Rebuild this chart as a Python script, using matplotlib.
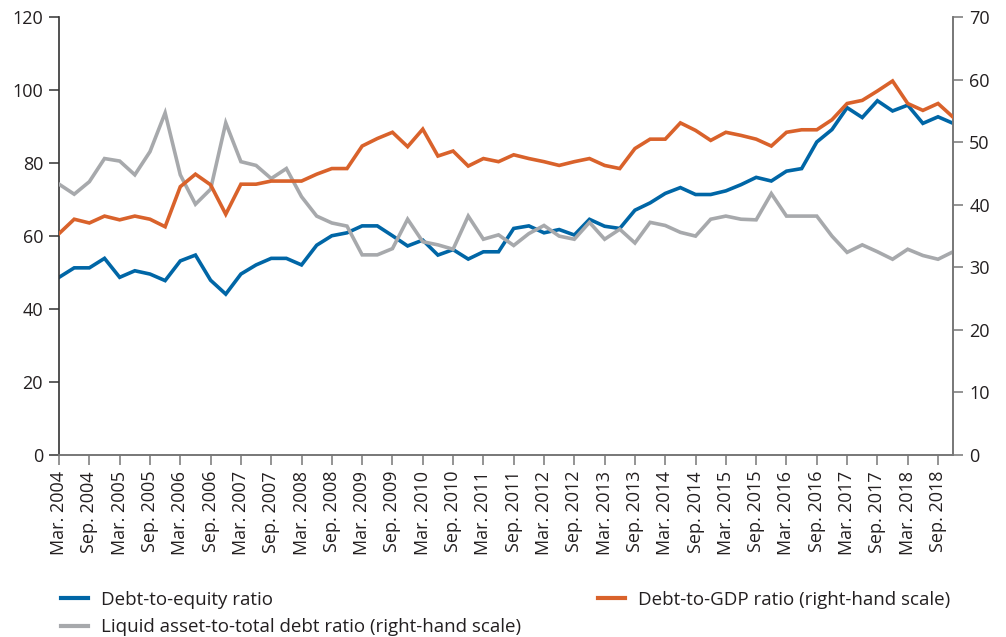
import matplotlib
matplotlib.use("Agg")
import matplotlib.pyplot as plt
import numpy as np

plt.rcParams['font.family'] = ['Open Sans', 'DejaVu Sans']

# Quarterly observations, Mar. 2004 to Dec. 2018
quarters = [f"{m}. {y}" for y in range(2004, 2019) for m in ("Mar", "Jun", "Sep", "Dec")]

debt_to_equity = [
    48.7, 51.3, 51.3, 53.9, 48.7, 50.5, 49.6, 47.8, 53.2, 54.8,
    47.9, 44.1, 49.6, 52.1, 53.9, 53.9, 52.1, 57.5, 60.1, 60.9,
    62.8, 62.8, 60.1, 57.3, 58.9, 54.8, 56.3, 53.7, 55.7, 55.7,
    62.1, 62.8, 60.9, 61.8, 60.3, 64.6, 62.7, 62.1, 67.1, 69.1,
    71.7, 73.3, 71.4, 71.4, 72.4, 74.1, 76.1, 75.1, 77.8, 78.5,
    85.8, 89.2, 95.2, 92.5, 97.1, 94.3, 95.9, 90.9, 92.7, 90.9,
]

debt_to_gdp = [
    35.4, 37.7, 37.1, 38.2, 37.6, 38.2, 37.7, 36.5, 42.9, 44.9,
    43.2, 38.5, 43.3, 43.3, 43.8, 43.8, 43.8, 44.9, 45.8, 45.8,
    49.4, 50.6, 51.6, 49.3, 52.1, 47.8, 48.6, 46.2, 47.4, 46.9,
    48.0, 47.4, 46.9, 46.3, 46.9, 47.4, 46.3, 45.8, 49.0, 50.5,
    50.5, 53.1, 51.9, 50.3, 51.6, 51.1, 50.5, 49.4, 51.6, 52.0,
    52.0, 53.6, 56.2, 56.7, 58.2, 59.8, 56.2, 55.1, 56.2, 54.0,
]

liquid_to_debt = [
    43.3, 41.7, 43.7, 47.4, 47.0, 44.8, 48.5, 54.7, 44.8, 40.1,
    42.5, 53.1, 46.9, 46.3, 44.2, 45.8, 41.3, 38.2, 37.1, 36.6,
    32.0, 32.0, 33.0, 37.7, 34.1, 33.6, 32.9, 38.2, 34.5, 35.2,
    33.5, 35.4, 36.7, 35.0, 34.5, 37.2, 34.5, 36.1, 33.9, 37.2,
    36.7, 35.6, 35.0, 37.7, 38.2, 37.7, 37.6, 41.8, 38.2, 38.2,
    38.2, 35.0, 32.4, 33.6, 32.5, 31.3, 32.9, 31.9, 31.3, 32.5,
]

left_ticks = [0, 20, 40, 60, 80, 100, 120]
right_ticks = [0, 10, 20, 30, 40, 50, 60, 70]

BLUE = "#0066a6"
ORANGE = "#d9622b"
GREY = "#a7a9ac"
AXIS = "#777777"
AXIS_DARK = "#333333"
TEXT = "#231f20"

fig = plt.figure(figsize=(10.06, 6.37), dpi=100)
fig.subplots_adjust(left=0.0587, right=0.9475, top=0.973, bottom=0.2857)
ax = fig.add_subplot(111)
ax2 = ax.twinx()

x = np.arange(len(quarters))
lw = 2.6
# left-scale series underneath, right-scale series drawn over it
l1, = ax.plot(x, debt_to_equity, color=BLUE, lw=lw, solid_joinstyle="miter")
l3, = ax2.plot(x, liquid_to_debt, color=GREY, lw=lw, solid_joinstyle="miter", zorder=2)
l2, = ax2.plot(x, debt_to_gdp, color=ORANGE, lw=lw, solid_joinstyle="miter", zorder=3)

ax.set_xlim(0, len(quarters) - 1)
ax.set_ylim(0, 120)
ax2.set_ylim(0, 70)
ax.set_yticks(left_ticks)
ax2.set_yticks(right_ticks)

ax.set_xticks(x[::2])
ax.set_xticklabels(quarters[::2], rotation=90)

for a in (ax, ax2):
    a.spines["top"].set_visible(False)
    for s in ("left", "right", "bottom"):
        a.spines[s].set_color(AXIS)
        a.spines[s].set_linewidth(1.2)
    a.tick_params(axis="both", colors=AXIS, length=7.5, width=1.1,
                  labelcolor=TEXT, labelsize=13, pad=4)
ax.spines["left"].set_color(AXIS_DARK)
ax2.spines["left"].set_visible(False)
ax.tick_params(axis="y", colors=AXIS_DARK, labelcolor=TEXT)

legend = fig.legend(
    [l1, l3, l2],
    ["Debt-to-equity ratio",
     "Liquid asset-to-total debt ratio (right-hand scale)",
     "Debt-to-GDP ratio (right-hand scale)"],
    loc="upper left", bbox_to_anchor=(0.053, 0.084), ncol=2,
    frameon=False, fontsize=13.5, handlelength=1.45, handletextpad=0.7,
    columnspacing=4.1, labelspacing=0.5, borderaxespad=0,
)
for t in legend.get_texts():
    t.set_color(TEXT)
for h in legend.legend_handles:
    h.set_linewidth(3)

fig.savefig("out.png", dpi=100)
